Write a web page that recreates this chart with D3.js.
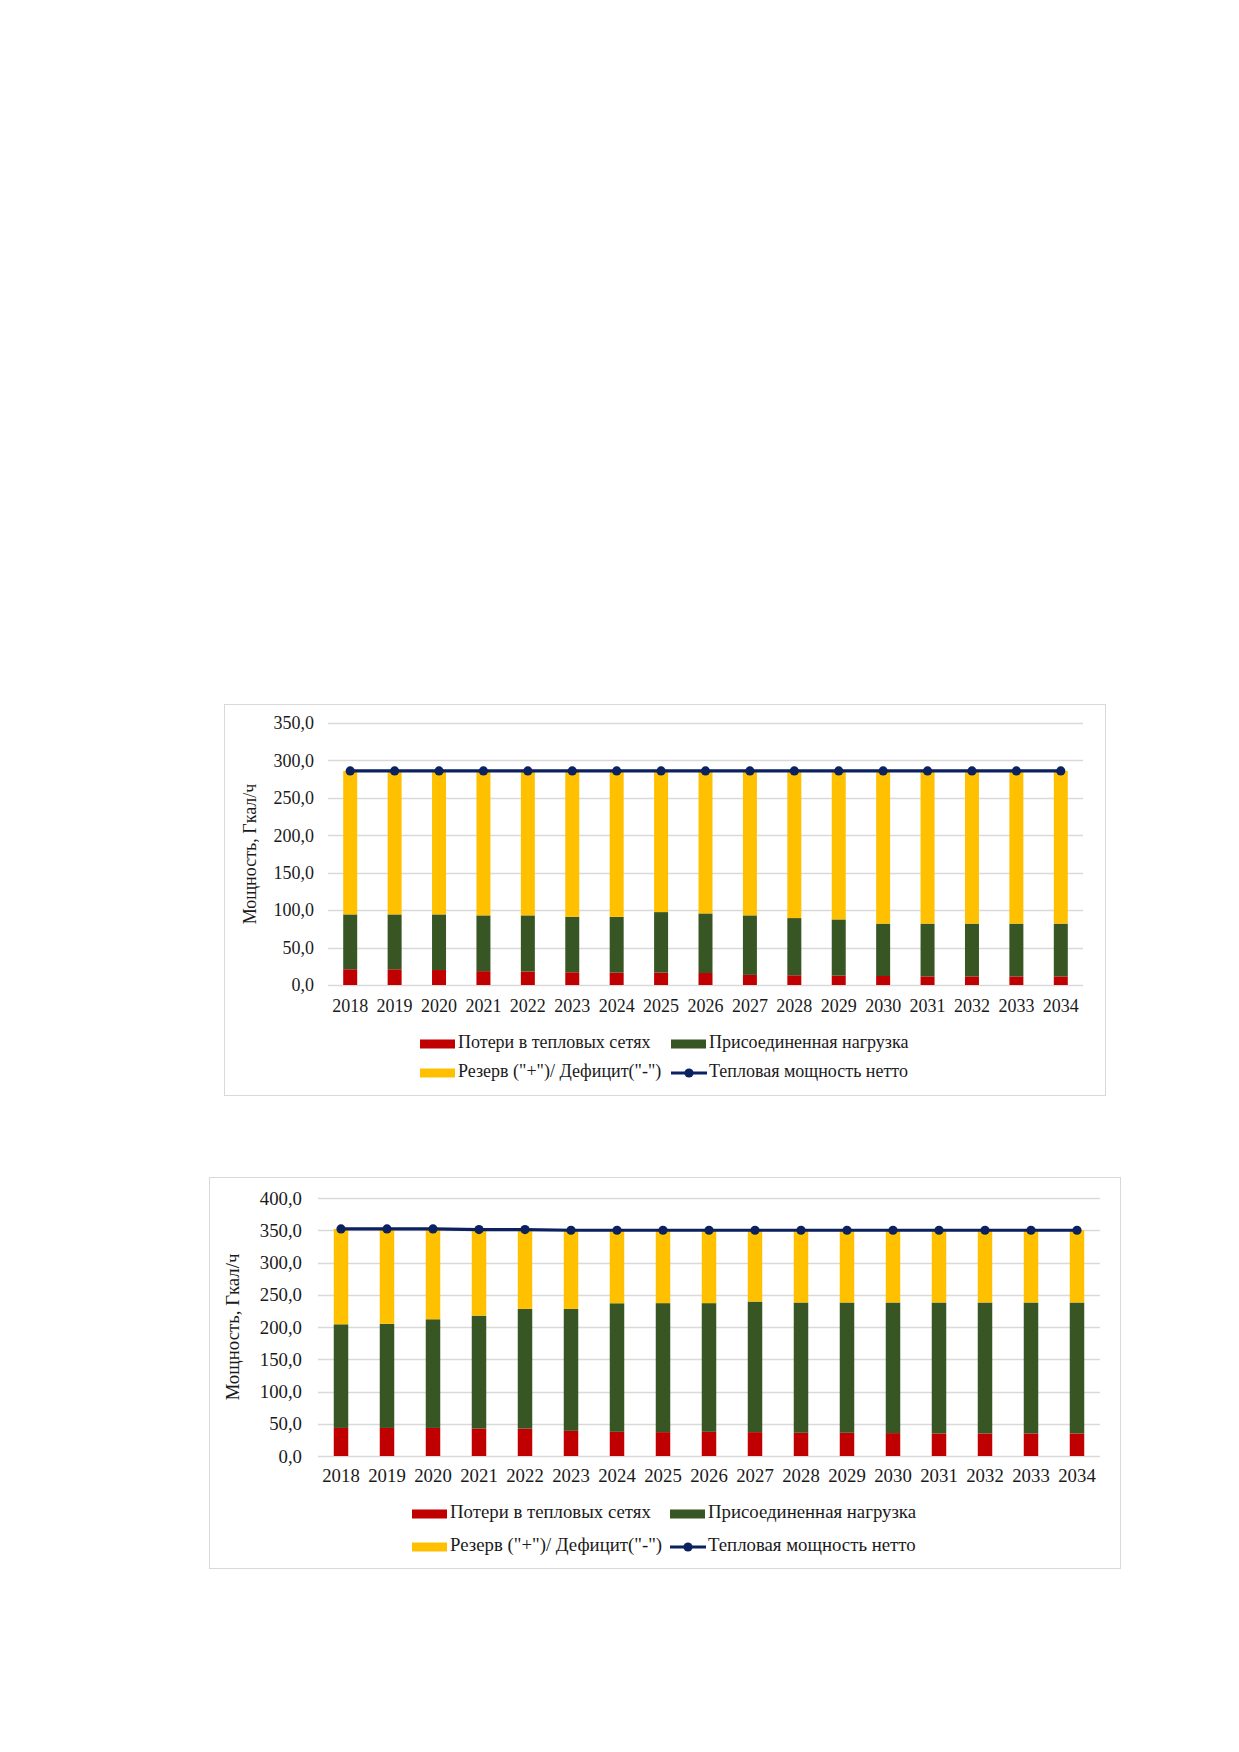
<!DOCTYPE html>
<html>
<head>
<meta charset="utf-8">
<script src="https://cdn.jsdelivr.net/npm/d3@7/dist/d3.min.js"></script>
<style>
  html, body { margin: 0; padding: 0; background: #fff; }
  svg { display: block; }
  text { font-family: "Liberation Serif", "Times New Roman", serif; fill: #1a1a1a; }
</style>
</head>
<body>
<svg id="page" width="1239" height="1752"></svg>
<script>
// ---------- DATA ----------
const years = ["2018","2019","2020","2021","2022","2023","2024","2025","2026","2027","2028","2029","2030","2031","2032","2033","2034"];

// Chart 1
const losses1  = [21, 21, 20, 18.5, 18, 17, 16.5, 16.5, 16, 13.5, 13, 12.5, 12, 11.5, 11.5, 11.5, 11.5];
const load1    = [73.3, 73.3, 74.3, 74.5, 75, 74.2, 74.5, 80.9, 79.6, 79.5, 76.4, 75.1, 70, 70.5, 70.5, 70.5, 70.5];
const reserve1 = [191.7, 191.7, 191.7, 193, 193, 194.8, 195, 188.6, 190.4, 193, 196.6, 198.4, 204, 204, 204, 204, 204];
const net1     = [286, 286, 286, 286, 286, 286, 286, 286, 286, 286, 286, 286, 286, 286, 286, 286, 286];
const ticks1   = ["0,0","50,0","100,0","150,0","200,0","250,0","300,0","350,0"];

// Chart 2
const losses2  = [43.5, 43.5, 43.5, 42.5, 42.5, 39, 37.5, 37, 37.5, 37, 36, 36, 35.5, 35, 35, 35, 35];
const load2    = [160.7, 161.5, 168.5, 175.1, 185.5, 189, 199.3, 200, 199.5, 202.4, 202, 202, 202.5, 203, 203, 203, 203];
const reserve2 = [147.8, 147, 140, 133.4, 123, 122, 113.2, 113, 113, 110.6, 112, 112, 112, 112, 112, 112, 112];
const net2     = [352, 352, 352, 351, 351, 350, 350, 350, 350, 350, 350, 350, 350, 350, 350, 350, 350];
const ticks2   = ["0,0","50,0","100,0","150,0","200,0","250,0","300,0","350,0","400,0"];

const seriesNames = ["Потери в тепловых сетях", "Присоединенная нагрузка", "Резерв (\"+\")/ Дефицит(\"-\")", "Тепловая мощность нетто"];
const yTitle = "Мощность, Гкал/ч";

// ---------- STYLE ----------
const colors = { loss: "#C00000", load: "#375623", reserve: "#FFC000", line: "#0B2160" };

const svg = d3.select("#page");

function drawChart(cfg, losses, load, reserve, net, tickLabels) {
  const fontSize = cfg.fontSize;
  const g = svg.append("g");
  g.append("rect")
    .attr("x", cfg.box.x + 0.5).attr("y", cfg.box.y + 0.5)
    .attr("width", cfg.box.w).attr("height", cfg.box.h)
    .attr("fill", "#fff").attr("stroke", "#D9D9D9").attr("stroke-width", 1);

  const x = d3.scaleBand().domain(years)
    .range([cfg.plot.left, cfg.plot.right])
    .paddingInner(0.685).paddingOuter(0.3425);
  const yMax = (tickLabels.length - 1) * 50;
  const y = d3.scaleLinear().domain([0, yMax]).range([cfg.plot.bottom, cfg.plot.top]);
  const tickVals = tickLabels.map((_, i) => i * 50);

  g.append("g").selectAll("line").data(tickVals).join("line")
    .attr("x1", cfg.plot.left).attr("x2", cfg.plot.right)
    .attr("y1", d => Math.round(y(d)) + 0.5).attr("y2", d => Math.round(y(d)) + 0.5)
    .attr("stroke", "#D9D9D9").attr("stroke-width", 1.3);

  const yAxis = d3.axisLeft(y).tickValues(tickVals)
    .tickFormat((d, i) => tickLabels[i]).tickSize(0).tickPadding(0);
  const ya = g.append("g").attr("transform", `translate(${cfg.tickRight},0)`).call(yAxis);
  ya.select(".domain").remove();
  ya.selectAll("text").attr("font-size", fontSize).attr("font-family", "Liberation Serif").attr("fill", "#1a1a1a");

  const xAxis = d3.axisBottom(x).tickSize(0).tickPadding(0);
  const xa = g.append("g").attr("transform", `translate(0,${cfg.xLabelY})`).call(xAxis);
  xa.select(".domain").remove();
  xa.selectAll("text").attr("font-size", fontSize).attr("font-family", "Liberation Serif").attr("fill", "#1a1a1a");

  g.append("text")
    .attr("transform", `translate(${cfg.yTitleX},${(cfg.plot.top + cfg.plot.bottom) / 2}) rotate(-90)`)
    .attr("text-anchor", "middle").attr("dominant-baseline", "middle")
    .attr("font-size", fontSize).text(yTitle);

  const rows = years.map((yr, i) => ({ year: yr, loss: losses[i], load: load[i], reserve: reserve[i] }));
  const stack = d3.stack().keys(["loss", "load", "reserve"])(rows);
  g.append("g").selectAll("g").data(stack).join("g")
    .attr("fill", d => colors[d.key])
    .selectAll("rect").data(d => d).join("rect")
    .attr("x", d => x(d.data.year))
    .attr("width", x.bandwidth())
    .attr("y", d => y(d[1]))
    .attr("height", d => y(d[0]) - y(d[1]));

  const line = d3.line().x((d, i) => x(years[i]) + x.bandwidth() / 2).y(d => y(d));
  g.append("path").datum(net).attr("d", line)
    .attr("fill", "none").attr("stroke", colors.line).attr("stroke-width", 3.2);
  g.append("g").selectAll("circle").data(net).join("circle")
    .attr("cx", (d, i) => x(years[i]) + x.bandwidth() / 2)
    .attr("cy", d => y(d)).attr("r", 4.6).attr("fill", colors.line);

  const L = cfg.legend;
  const sw = 35, sh = 9;
  const items = [
    { col: 0, row: 0, type: "rect", color: colors.loss, name: seriesNames[0] },
    { col: 1, row: 0, type: "rect", color: colors.load, name: seriesNames[1] },
    { col: 0, row: 1, type: "rect", color: colors.reserve, name: seriesNames[2] },
    { col: 1, row: 1, type: "line", color: colors.line, name: seriesNames[3] }
  ];
  items.forEach(it => {
    const sx = L.cols[it.col], sy = L.rows[it.row];
    if (it.type === "rect") {
      g.append("rect").attr("x", sx).attr("y", sy - sh / 2).attr("width", sw).attr("height", sh).attr("fill", it.color);
    } else {
      g.append("line").attr("x1", sx).attr("x2", sx + sw + 1).attr("y1", sy).attr("y2", sy)
        .attr("stroke", it.color).attr("stroke-width", 3.2);
      g.append("circle").attr("cx", sx + (sw + 1) / 2).attr("cy", sy).attr("r", 4.6).attr("fill", it.color);
    }
    g.append("text").attr("x", sx + sw + 3).attr("y", sy).attr("dominant-baseline", "middle")
      .attr("font-size", fontSize).text(it.name);
  });
}

drawChart({
  fontSize: 18,
  box: { x: 224, y: 704, w: 881, h: 391 },
  plot: { left: 328, right: 1083, top: 723, bottom: 985 },
  tickRight: 314, xLabelY: 999, yTitleX: 252,
  legend: { cols: [420, 671], rows: [1044, 1073] }
}, losses1, load1, reserve1, net1, ticks1);

drawChart({
  fontSize: 18.8,
  box: { x: 209, y: 1177, w: 911, h: 391 },
  plot: { left: 318, right: 1100, top: 1198, bottom: 1456 },
  tickRight: 302, xLabelY: 1469, yTitleX: 235,
  legend: { cols: [412, 670], rows: [1514, 1547] }
}, losses2, load2, reserve2, net2, ticks2);
</script>
</body>
</html>
